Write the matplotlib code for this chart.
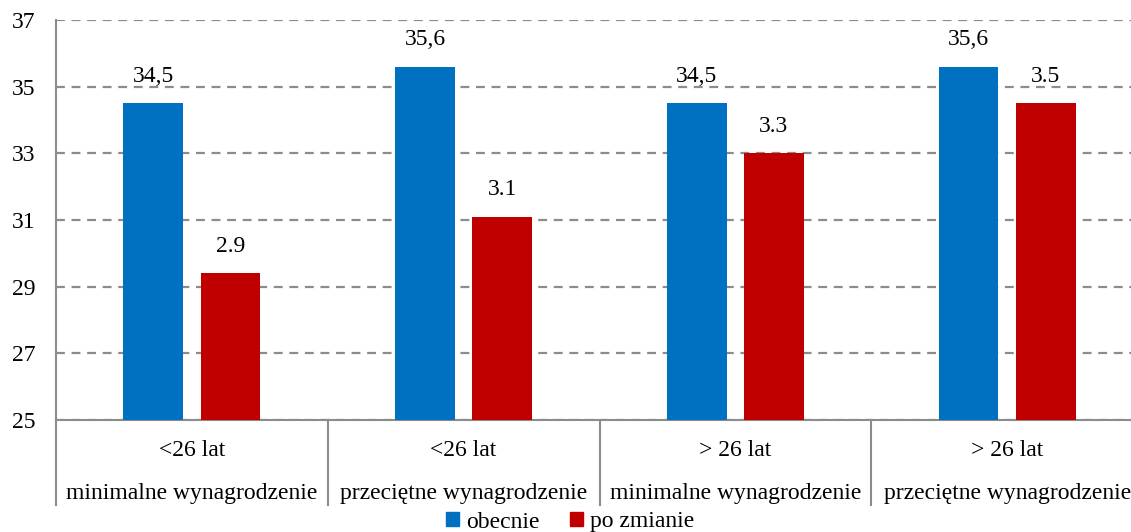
import matplotlib
matplotlib.use("Agg")
import matplotlib.pyplot as plt
from matplotlib.lines import Line2D
from matplotlib.patches import Patch
import matplotlib.transforms as mtransforms
import numpy as np

plt.rcParams['font.family'] = ['Liberation Serif', 'DejaVu Serif']

groups_top = ["<26 lat", "<26 lat", "> 26 lat", "> 26 lat"]
groups_bottom = ["minimalne wynagrodzenie", "przeciętne wynagrodzenie",
                 "minimalne wynagrodzenie", "przeciętne wynagrodzenie"]
obecnie = [34.5, 35.6, 34.5, 35.6]
po_zmianie = [29.4, 31.1, 33.0, 34.5]
labels_obecnie = ["34,5", "35,6", "34,5", "35,6"]
labels_po = ["2.9", "3.1", "3.3", "3.5"]
yticks = [25, 27, 29, 31, 33, 35, 37]

blue = "#0070C0"
red = "#C00000"
grey = "#8C8C8C"
fs = 17

fig = plt.figure(figsize=(11.31, 5.32), dpi=100)
ax = fig.add_axes([56/1131, 112/532, 1087/1131, 400/532])

x = np.arange(len(obecnie))
w = 0.22
off = 0.142
b1 = ax.bar(x - off, obecnie, w, bottom=0, color=blue, zorder=3)
b2 = ax.bar(x + off, po_zmianie, w, bottom=0, color=red, zorder=3)

for rect, lab in zip(b1, labels_obecnie):
    ax.annotate(lab, (rect.get_x() + rect.get_width()/2, rect.get_height()),
                xytext=(0, 19.5), textcoords="offset points", ha="center", va="center",
                fontsize=fs)
for rect, lab in zip(b2, labels_po):
    ax.annotate(lab, (rect.get_x() + rect.get_width()/2, rect.get_height()),
                xytext=(0, 19.5), textcoords="offset points", ha="center", va="center",
                fontsize=fs)

ax.set_ylim(25, 37)
ax.set_xlim(-0.5, 3.5)
ax.set_yticks(yticks)
ax.set_yticklabels([str(t) for t in yticks], fontsize=fs)
ax.tick_params(axis='y', length=0, pad=15)
ax.set_xticks([])
ax.yaxis.grid(True, linestyle=(0, (4, 3)), color=grey, linewidth=1.6, zorder=0)
ax.set_axisbelow(True)
for s in ["top", "right"]:
    ax.spines[s].set_visible(False)
ax.spines["left"].set_color(grey)
ax.spines["left"].set_linewidth(1.5)
ax.spines["bottom"].set_color(grey)
ax.spines["bottom"].set_linewidth(1.5)

trans = mtransforms.blended_transform_factory(ax.transData, ax.transAxes)
sep_low = -85/400
for i in range(len(obecnie) + 1):
    ax.add_line(Line2D([i - 0.5, i - 0.5], [0, sep_low], transform=trans,
                       color=grey, linewidth=1.5, clip_on=False))
for i in range(len(obecnie)):
    ax.text(i, -30/400, groups_top[i], transform=trans, ha="center", va="center", fontsize=fs)
    ax.text(i, -74/400, groups_bottom[i], transform=trans, ha="center", va="center", fontsize=fs)

handles = [Patch(color=blue, label="obecnie"), Patch(color=red, label="po zmianie")]
fig.legend(handles=handles, loc="center", bbox_to_anchor=(570/1131, 1 - 522/532),
           ncol=2, frameon=False, fontsize=fs, handlelength=0.55, handleheight=0.55,
           handletextpad=0.3, columnspacing=1.3)

fig.savefig("out.png", dpi=100)
